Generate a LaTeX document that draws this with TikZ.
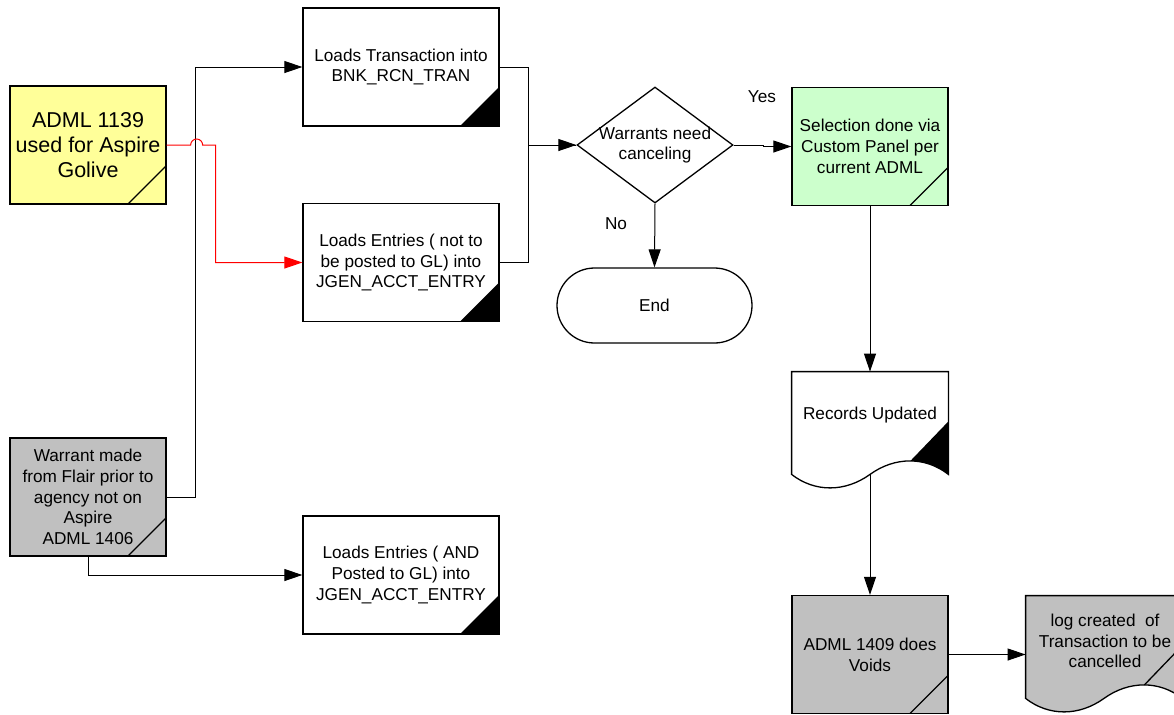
\documentclass[tikz,border=0pt]{standalone}
\usepackage{fontspec}
\setmainfont{Liberation Sans}
\usepackage{tikz}
\usetikzlibrary{shapes, arrows.meta, positioning}
\definecolor{noteyellow}{RGB}{255,255,153}
\definecolor{passgreen}{RGB}{204,255,204}
\definecolor{flairgray}{RGB}{192,192,192}
\tikzstyle{line} = [draw, -{Triangle[length=9pt,width=6pt]}, line width=0.5pt]
\tikzstyle{redline} = [line, draw=red]

\begin{document}
\begin{tikzpicture}[x=0.5pt, y=-0.5pt]
  \tikzset{
    txt/.style={font=\fontsize{8.6}{10.35}\selectfont, align=center, inner sep=0pt},
    box/.style={
      txt, rectangle, draw=black, line width=0.65pt,
      minimum width=#1, minimum height=59pt
    },
    box/.default=98pt,
    loadbox/.style={
      box, fill=white,
      path picture={
        \fill[black] (path picture bounding box.south east)
          -- ++(-19.5pt,0pt) -- ++(19.5pt,19.5pt) -- cycle;
      }
    },
    notebox/.style={
      box=78pt, fill=#1,
      path picture={
        \draw[black, line width=0.65pt] (path picture bounding box.south east)
          ++(-19pt,0pt) -- ++(19pt,19pt);
      }
    },
    decide/.style={diamond, draw=black, line width=0.65pt,
      minimum width=78pt, minimum height=58pt, inner sep=0pt},
    term/.style={txt, rounded rectangle, draw=black, line width=0.65pt,
      minimum width=97.5pt, minimum height=37.5pt},
    docarea/.style={rectangle, minimum width=78pt, minimum height=51pt, inner sep=0pt}
  }
  \clip (0,0) rectangle (1174,714);

  % sources
  \node[notebox=noteyellow, font=\fontsize{10.75}{12.5}\selectfont] (golive) at (88,145)
    {ADML 1139\\used for Aspire\\Golive};
  \node[notebox=flairgray] (flair) at (88,497)
    {Warrant made\\from Flair prior to\\agency not on\\Aspire\\ADML 1406};

  % loads
  \node[loadbox] (tran) at (401,67) {Loads Transaction into\\BNK\_RCN\_TRAN};
  \node[loadbox] (entry) at (401,262.5) {Loads Entries ( not to\\be posted to GL) into\\JGEN\_ACCT\_ENTRY};
  \node[loadbox] (posted) at (401,575) {Loads Entries ( AND\\Posted to GL) into\\JGEN\_ACCT\_ENTRY};

  % decision
  \node[decide] (cancel) at (655,145) {};
  \node[txt] (cancelTxt) at (cancel) {Warrants need\\canceling};
  \node[term] (finish) at (654.5,305.5) {End};
  \node[txt] (yes) at (762,97) {Yes};
  \node[txt] (no) at (616,224) {No};

  % right column
  \node[notebox=passgreen] (panel) at (870,146.5) {Selection done via\\Custom Panel per\\current ADML};
  \node[docarea] (records) at (870,423) {};
  \draw[line width=0.65pt, fill=white] (records.south east) -- (records.north east)
    -- (records.north west) -- (records.south west)
    .. controls +(23,18) and +(-25,18) .. (records.south)
    .. controls +(25,-18) and +(-23,-18) .. (records.south east) -- cycle;
  \fill (records.south east) -- ++(0,-53) -- ++(-38,39.5)
    .. controls +(13,0) and +(-11.5,-9) .. (records.south east);
  \node[txt] (recordsTxt) at (870,415) {Records Updated};

  \node[notebox=flairgray] (voids) at (870,654.5) {ADML 1409 does\\Voids};
  \node[docarea] (logdoc) at (1104,647) {};
  \draw[line width=0.65pt, fill=flairgray] (logdoc.south east) -- (logdoc.north east)
    -- (logdoc.north west) -- (logdoc.south west)
    .. controls +(23,18) and +(-25,18) .. (logdoc.south)
    .. controls +(25,-18) and +(-23,-18) .. (logdoc.south east) -- cycle;
  \draw[line width=0.65pt] (logdoc.south east) ++(0,-53) -- ++(-38,39.5);
  \node[txt] (logdocTxt) at (1105,641) {log created~ of\\Transaction to be\\cancelled};

  % connectors
  \path[line] (flair.east) -- ++(29,0) |- (tran.west);
  \path[redline] (golive.east) -- ++(24,0) arc[start angle=180, end angle=0, radius=3pt]
    -- ++(13,0) |- (entry.west);
  \path[line] (flair.south) |- (posted.west);
  \draw[line width=0.5pt] (tran.east) -- ++(29,0) |- (cancel.west);
  \path[line] (entry.east) -- ++(29,0) |- (cancel.west);
  \path[line] (cancel.east) -- ++(30,0) |- (panel.west);
  \path[line] (cancel.south) -- (finish.north);
  \path[line] (panel.south) -- (records.north);
  \path[line] (records.south) -- (voids.north);
  \path[line] (voids.east) -- (voids.east -| logdoc.west);
\end{tikzpicture}
\end{document}
